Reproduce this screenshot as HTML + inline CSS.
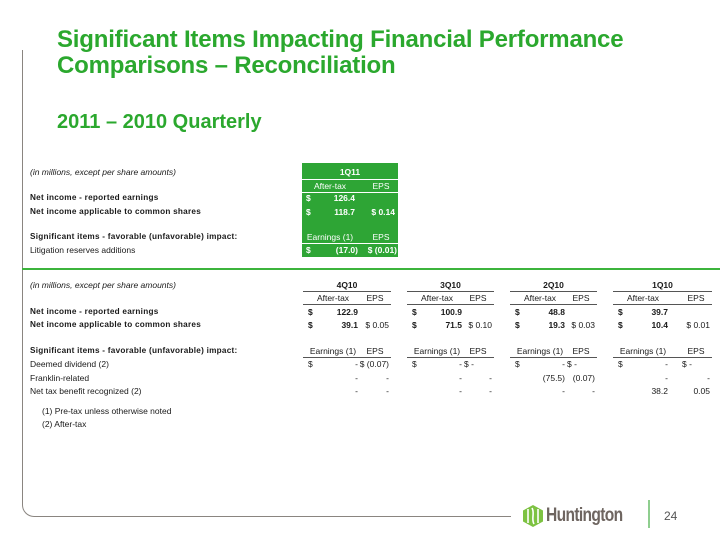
<!DOCTYPE html>
<html><head><meta charset="utf-8">
<style>
body{margin:0;background:#fff;}
#slide{position:relative;width:720px;height:540px;overflow:hidden;background:#fff;font-family:"Liberation Sans",Arial,sans-serif;color:#1a1a1a;}
.abs{position:absolute;white-space:nowrap;font-size:8.5px;line-height:10px;}
.b{font-weight:bold;}
.lbl{font-size:8.2px;letter-spacing:0.25px;}
.title{position:absolute;left:57px;color:#2ba82e;font-weight:bold;font-family:"Liberation Sans",Arial,sans-serif;white-space:nowrap;}
.hl{position:absolute;height:1px;background:#555;}
</style></head>
<body>
<div id="slide">
  <div style="position:absolute;left:22px;top:50px;width:488px;height:466px;border-left:1.5px solid #8a8580;border-bottom:1.5px solid #8a8580;border-bottom-left-radius:12px;"></div>
  <div class="title" style="top:27px;font-size:24px;line-height:26px;letter-spacing:-0.2px;">Significant Items Impacting Financial Performance<br>Comparisons – Reconciliation</div>
  <div class="title" style="top:110px;font-size:20px;line-height:24px;">2011 – 2010 Quarterly</div>

  <div style="position:absolute;left:302px;top:163px;width:96px;height:94px;background:#2ea535;"></div>
  <div style="position:absolute;left:302px;top:179px;width:96px;height:1px;background:#fff;"></div>
  <div style="position:absolute;left:302px;top:192px;width:96px;height:1px;background:#fff;"></div>
  <div style="position:absolute;left:302px;top:243px;width:96px;height:1px;background:#fff;"></div>

  <div style="position:absolute;left:22px;top:268px;width:698px;height:2px;background:#3cb43c;"></div>

  <div style="position:absolute;left:523px;top:505px;width:20px;height:22px;">
    <svg width="20" height="22" viewBox="0 0 20 22"><polygon points="10,0 20,5.5 20,16.5 10,22 0,16.5 0,5.5" fill="#7dc242"/><path d="M5 4 L5 18 M9 3 C12 8 8 14 11 19 M15 4 L15 18" stroke="#fff" stroke-width="1.6" fill="none"/></svg>
  </div>
  <div class="abs b" style="left:546px;top:505px;font-size:19px;line-height:22px;color:#6e6560;letter-spacing:-0.8px;transform:scaleX(0.82);transform-origin:left;">Huntington</div>
  <div style="position:absolute;left:648px;top:500px;width:1.5px;height:28px;background:#8fce8f;"></div>
  <div class="abs" style="left:664px;top:509px;font-size:12px;line-height:14px;color:#555;">24</div>
</div>
<script>
var slide=document.getElementById('slide');
function cell(x,y,text,align,bold,name,color,cls){
  var el=document.createElement('div');
  el.className='abs'+(bold?' b':'')+(cls?' '+cls:'');
  el.textContent=text;
  
  
  el.style.top=(y-5)+'px';
  if(color) el.style.color=color;
  if(align==='r'){el.style.left=(x-200)+'px';el.style.width='200px';el.style.textAlign='right';}
  else if(align==='c'){el.style.left=(x-100)+'px';el.style.width='200px';el.style.textAlign='center';}
  else el.style.left=x+'px';
  slide.appendChild(el);
}
function line(x,y,w,name){
  var el=document.createElement('div');
  el.className='hl';
  
  
  el.style.left=x+'px';el.style.top=y+'px';el.style.width=w+'px';
  slide.appendChild(el);
}
cell(30,172,'(in millions, except per share amounts)','l',false,'units-note-top');
slide.lastChild.style.fontStyle='italic';
cell(30,198,'Net income - reported earnings','l',true,'row-label-reported',null,'lbl');
cell(30,212,'Net income applicable to common shares','l',true,'row-label-common',null,'lbl');
cell(30,237,'Significant items - favorable (unfavorable) impact:','l',true,'row-label-significant',null,'lbl');
cell(30,250,'Litigation reserves additions','l',false,'row-label-litigation');
var W='#fff';
cell(350,172,'1Q11','c',true,'header-1q11',W);
cell(330,186,'After-tax','c',false,'header-aftertax-1q11',W);
cell(381,186,'EPS','c',false,'header-eps-1q11',W);
cell(306,198,'$','l',true,'cur-1q11-r1',W);
cell(355,198,'126.4','r',true,'val-1q11-reported',W);
cell(306,212,'$','l',true,'cur-1q11-r2',W);
cell(355,212,'118.7','r',true,'val-1q11-common',W);
cell(395,212,'$ 0.14','r',true,'eps-1q11-common',W);
cell(330,237,'Earnings (1)','c',false,'header-earnings-1q11',W);
cell(381,237,'EPS','c',false,'header-eps2-1q11',W);
cell(306,250,'$','l',true,'cur-1q11-lit',W);
cell(358,250,'(17.0)','r',true,'val-1q11-litigation',W);
cell(397,250,'$ (0.01)','r',true,'eps-1q11-litigation',W);

cell(30,285,'(in millions, except per share amounts)','l',false,'units-note-bottom');
slide.lastChild.style.fontStyle='italic';
cell(30,312,'Net income - reported earnings','l',true,'row-label-reported-2010',null,'lbl');
cell(30,325,'Net income applicable to common shares','l',true,'row-label-common-2010',null,'lbl');
cell(30,351,'Significant items - favorable (unfavorable) impact:','l',true,'row-label-significant-2010',null,'lbl');
cell(30,364,'Deemed dividend (2)','l',false,'row-label-deemed');
cell(30,378,'Franklin-related','l',false,'row-label-franklin');
cell(30,391,'Net tax benefit recognized (2)','l',false,'row-label-tax');
cell(42,411,'(1) Pre-tax unless otherwise noted','l',false,'footnote-1');
cell(42,424,'(2) After-tax','l',false,'footnote-2');

var quarters=['4Q10','3Q10','2Q10','1Q10'];
var reported=['122.9','100.9','48.8','39.7'];
var common=['39.1','71.5','19.3','10.4'];
var commonEps=['$ 0.05','$ 0.10','$ 0.03','$   0.01'];
var deemed=['-','-','-','-'];
var deemedEps=['$ (0.07)','$  -','$  -','$    -'];
var franklin=['-','-','(75.5)','-'];
var franklinEps=['-','-','(0.07)','-'];
var taxv=['-','-','-','38.2'];
var taxEps=['-','-','-','0.05'];
var ox=[303,407,510,613];
var gw=[88,87,87,99];
for(var i=0;i<4;i++){
  var x=ox[i],w=gw[i],q=quarters[i].toLowerCase();
  var vr=x+55, er=x+w-2;
  cell(x+w/2,285,quarters[i],'c',true,'header-'+q);
  line(x,291,w,'header-rule-'+q);
  cell(x+30,298,'After-tax','c',false,'header-aftertax-'+q);
  cell(x+w-16,298,'EPS','c',false,'header-eps-'+q);
  line(x,304,w,'subheader-rule-'+q);
  cell(x+5,312,'$','l',true,'cur-'+q+'-r1');
  cell(vr,312,reported[i],'r',true,'val-'+q+'-reported');
  cell(x+5,325,'$','l',true,'cur-'+q+'-r2');
  cell(vr,325,common[i],'r',true,'val-'+q+'-common');
  cell(er,325,commonEps[i],'r',false,'eps-'+q+'-common');
  cell(x+30,351,'Earnings (1)','c',false,'header-earnings-'+q);
  cell(x+w-16,351,'EPS','c',false,'header-eps2-'+q);
  line(x,357,w,'earnings-rule-'+q);
  cell(x+5,364,'$','l',false,'cur-'+q+'-deemed');
  cell(vr,364,deemed[i],'r',false,'val-'+q+'-deemed');
  if(i===0){cell(er,364,deemedEps[i],'r',false,'eps-'+q+'-deemed');}
  else{cell(x+w-30,364,deemedEps[i],'l',false,'eps-'+q+'-deemed');}
  cell(vr,378,franklin[i],'r',false,'val-'+q+'-franklin');
  cell(er,378,franklinEps[i],'r',false,'eps-'+q+'-franklin');
  cell(vr,391,taxv[i],'r',false,'val-'+q+'-tax');
  cell(er,391,taxEps[i],'r',false,'eps-'+q+'-tax');
}
</script>
</body></html>
